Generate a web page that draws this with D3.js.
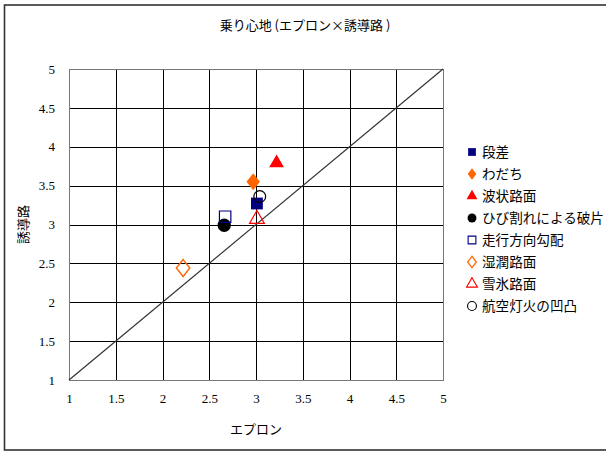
<!DOCTYPE html>
<html>
<head>
<meta charset="utf-8">
<script src="https://cdn.jsdelivr.net/npm/d3@7/dist/d3.min.js"></script>
<style>
  html, body { margin: 0; padding: 0; background: #fff; }
  svg { display: block; }
</style>
</head>
<body>
<svg id="chart" width="606" height="452"></svg>
<script>
// Ride quality: apron (x) vs taxiway (y) ratings per pavement condition
const seriesNames = ["段差", "わだち", "波状路面", "ひび割れによる破片", "走行方向勾配", "湿潤路面", "雪氷路面", "航空灯火の凹凸"];
const apronValues = [3.01, 2.97, 3.22, 2.66, 2.67, 2.22, 3.01, 3.04];
const taxiwayValues = [3.27, 3.55, 3.79, 2.99, 3.10, 2.44, 3.07, 3.36];
const markerShapes = ["square", "diamond", "triangle", "circle", "square", "diamond", "triangle", "circle"];
const markerFilled = [true, true, true, true, false, false, false, false];
const markerColors = ["#000080", "#ff6600", "#ff0000", "#000000", "#000080", "#ff6600", "#ff0000", "#000000"];
const xTicks = [1, 1.5, 2, 2.5, 3, 3.5, 4, 4.5, 5];
const yTicks = [1, 1.5, 2, 2.5, 3, 3.5, 4, 4.5, 5];

const svg = d3.select("#chart");
const plot = { left: 69, top: 69, right: 443, bottom: 380 };
const jpFont = "'Noto Sans CJK JP', 'Noto Sans', sans-serif";
const numFont = "'Liberation Serif', 'Times New Roman', serif";

// outer frame
svg.append("rect")
  .attr("x", 4.5).attr("y", 5).attr("width", 610).attr("height", 445)
  .attr("fill", "none").attr("stroke", "#333").attr("stroke-width", 1.6);

const x = d3.scaleLinear().domain([1, 5]).range([plot.left, plot.right]);
const y = d3.scaleLinear().domain([1, 5]).range([plot.bottom, plot.top]);

// grid lines
const grid = svg.append("g");
grid.selectAll("line.v").data(xTicks).join("line")
  .attr("x1", d => Math.round(x(d)) + 0.5).attr("x2", d => Math.round(x(d)) + 0.5)
  .attr("y1", plot.top).attr("y2", plot.bottom)
  .attr("stroke", "#000").attr("stroke-width", 1);
grid.selectAll("line.h").data(yTicks).join("line")
  .attr("y1", d => Math.round(y(d)) + 0.5).attr("y2", d => Math.round(y(d)) + 0.5)
  .attr("x1", plot.left).attr("x2", plot.right)
  .attr("stroke", "#000").attr("stroke-width", 1);

// plot border
svg.append("rect")
  .attr("x", plot.left + 0.5).attr("y", plot.top + 0.5)
  .attr("width", plot.right - plot.left).attr("height", plot.bottom - plot.top)
  .attr("fill", "none").attr("stroke", "#777").attr("stroke-width", 1);

// axes (labels only)
const xAxis = d3.axisBottom(x).tickValues(xTicks).tickSize(0).tickPadding(14).tickFormat(d3.format("~g"));
const yAxis = d3.axisLeft(y).tickValues(yTicks).tickSize(0).tickPadding(14).tickFormat(d3.format("~g"));
const gx = svg.append("g").attr("transform", `translate(0,${plot.bottom})`).call(xAxis);
const gy = svg.append("g").attr("transform", `translate(${plot.left},0)`).call(yAxis);
[gx, gy].forEach(g => {
  g.attr("font-family", numFont).attr("font-size", 13);
  g.select(".domain").remove();
  g.selectAll("text").style("font-family", numFont).attr("fill", "#000");
});
gx.selectAll("text").attr("dy", "0.71em");

// diagonal reference line y = x
svg.append("line")
  .attr("x1", x(1)).attr("y1", y(1)).attr("x2", x(5)).attr("y2", y(5))
  .attr("stroke", "#333").attr("stroke-width", 1.2);

// symbol builder
function symbolPath(shape, filled) {
  const types = { square: d3.symbolSquare, diamond: d3.symbolDiamond, triangle: d3.symbolTriangle, circle: d3.symbolCircle };
  const sizes = filled
    ? { square: 140, diamond: 85, triangle: 95, circle: 140 }
    : { square: 130, diamond: 85, triangle: 95, circle: 110 };
  return d3.symbol().type(types[shape]).size(sizes[shape])();
}

const points = seriesNames.map((name, i) => ({
  name, xv: apronValues[i], yv: taxiwayValues[i],
  shape: markerShapes[i], filled: markerFilled[i], color: markerColors[i]
}));

svg.append("g").selectAll("path").data(points).join("path")
  .attr("d", d => symbolPath(d.shape, d.filled))
  .attr("transform", d => `translate(${x(d.xv)},${y(d.yv)})` + (d.shape === "diamond" ? " scale(1.35,1)" : ""))
  .attr("fill", d => d.filled ? d.color : "none")
  .attr("stroke", d => d.color)
  .attr("stroke-width", d => d.filled ? 0 : 1.2);

// title
svg.append("text")
  .attr("x", 305).attr("y", 30).attr("text-anchor", "middle")
  .attr("font-family", jpFont).attr("font-size", 13).attr("fill", "#000")
  .text("乗り心地 (エプロン×誘導路 )");

// axis titles
svg.append("text")
  .attr("x", x(3)).attr("y", 434).attr("text-anchor", "middle")
  .attr("font-family", jpFont).attr("font-size", 13).attr("fill", "#000")
  .text("エプロン");
svg.append("text")
  .attr("transform", `translate(28,${(plot.top + plot.bottom) / 2}) rotate(-90)`)
  .attr("text-anchor", "middle")
  .attr("font-family", jpFont).attr("font-size", 13).attr("fill", "#000")
  .text("誘導路");

// legend
const legend = svg.append("g").attr("transform", "translate(472,152)");
const rowH = 22;
const lsizes = { square: 60, diamond: 38, triangle: 52, circle: 62 };
const ltypes = { square: d3.symbolSquare, diamond: d3.symbolDiamond, triangle: d3.symbolTriangle, circle: d3.symbolCircle };
const rows = legend.selectAll("g").data(points).join("g")
  .attr("transform", (d, i) => `translate(0,${i * rowH})`);
rows.append("path")
  .attr("d", d => d3.symbol().type(ltypes[d.shape]).size(lsizes[d.shape])())
  .attr("transform", d => d.shape === "diamond" ? "scale(1.3,1)" : null)
  .attr("fill", d => d.filled ? d.color : "none")
  .attr("stroke", d => d.color)
  .attr("stroke-width", d => d.filled ? 0 : 1.1);
rows.append("text")
  .attr("x", 10).attr("y", 0).attr("dy", "0.36em")
  .attr("font-family", jpFont).attr("font-size", 13.6).attr("fill", "#000")
  .text(d => d.name);
</script>
</body>
</html>
